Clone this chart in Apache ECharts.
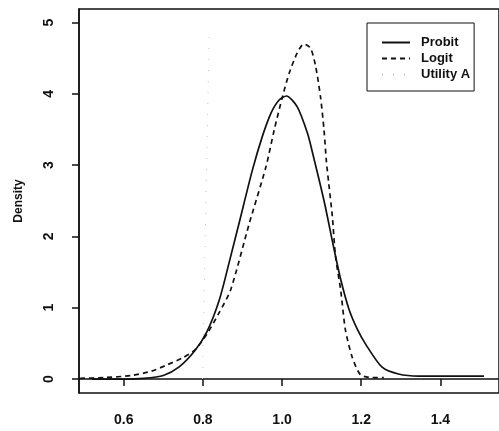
<!DOCTYPE html>
<html><head><meta charset="utf-8">
<script src="https://cdn.jsdelivr.net/npm/echarts@6/dist/echarts.min.js"></script>
<style>html,body{margin:0;padding:0;background:#fff}#c{width:499px;height:431px}</style>
</head><body><div id="c"></div>
<script>
const probitX = [0.52,0.60,0.65,0.70,0.74,0.78,0.81,0.842,0.867,0.892,0.925,0.950,0.972,0.992,1.011,1.038,1.064,1.078,1.106,1.131,1.148,1.169,1.19,1.211,1.252,1.294,1.345,1.40,1.51];
const probitY = [0.00,0.00,0.01,0.05,0.17,0.40,0.66,1.12,1.65,2.20,2.93,3.40,3.73,3.91,3.97,3.82,3.45,3.15,2.50,1.83,1.40,0.98,0.70,0.49,0.17,0.07,0.04,0.04,0.04];
const logitX = [0.49,0.55,0.62,0.67,0.71,0.75,0.78,0.81,0.84,0.87,0.917,0.959,0.980,1.001,1.018,1.038,1.055,1.072,1.085,1.097,1.106,1.112,1.118,1.127,1.135,1.148,1.160,1.177,1.198,1.227,1.257];
const logitY = [0.01,0.02,0.05,0.11,0.20,0.30,0.41,0.63,0.92,1.25,2.18,2.97,3.49,3.96,4.29,4.57,4.70,4.64,4.38,3.96,3.49,3.05,2.74,2.28,1.72,1.25,0.69,0.31,0.06,0.02,0.02];
const utilX = [0.799,0.816];
const utilY = [0,4.87];
const xTicks = [0.6,0.8,1.0,1.2,1.4];
const yTicks = [0,1,2,3,4,5];
const seriesNames = ['Probit','Logit','Utility A'];
const yName = 'Density';

const zip = (a,b)=>a.map((v,i)=>[v,b[i]]);
const font = 'Liberation Sans, Arial, sans-serif';
const ink = '#111';
const chart = echarts.init(document.getElementById('c'), null, {renderer:'canvas'});
chart.setOption({
  backgroundColor:'#fff',
  animation:false,
  grid:{left:79,top:9,right:-2,bottom:38,show:true,borderColor:ink,borderWidth:1.5,backgroundColor:'transparent'},
  xAxis:{type:'value',min:0.487,max:1.548,
    axisLine:{show:true,lineStyle:{color:ink,width:1.5}},
    axisTick:{show:true,customValues:xTicks,length:7,lineStyle:{color:ink,width:1.5}},
    axisLabel:{customValues:xTicks,margin:20,color:ink,fontFamily:font,fontSize:14,fontWeight:'bold',
      formatter:v=>v.toFixed(1)},
    splitLine:{show:false}},
  yAxis:{type:'value',min:-0.196,max:5.19,
    name:yName,nameLocation:'middle',nameRotate:90,nameGap:54,
    nameTextStyle:{color:ink,fontFamily:font,fontSize:12,fontWeight:'bold'},
    axisLine:{show:true,lineStyle:{color:ink,width:1.5}},
    axisTick:{show:true,customValues:yTicks,length:7,lineStyle:{color:ink,width:1.5}},
    axisLabel:{customValues:yTicks,rotate:90,margin:23,color:ink,fontFamily:font,fontSize:14,fontWeight:'bold'},
    splitLine:{show:false}},
  legend:{data:seriesNames,orient:'vertical',left:367,top:23,width:107,
    backgroundColor:'#fff',borderColor:ink,borderWidth:1,
    padding:[13,4,10,14],itemWidth:28,itemHeight:14,itemGap:3,
    itemStyle:{opacity:0},
    textStyle:{color:ink,fontFamily:font,fontSize:13,fontWeight:'bold',padding:[0,0,0,6]}},
  series:[
    {name:seriesNames[0],type:'line',data:zip(probitX,probitY),symbol:'none',smooth:0.25,
      lineStyle:{color:ink,width:1.7,type:'solid'},itemStyle:{color:ink}},
    {name:seriesNames[1],type:'line',data:zip(logitX,logitY),symbol:'none',smooth:0.25,
      lineStyle:{color:ink,width:1.7,type:[5,4]},itemStyle:{color:ink}},
    {name:seriesNames[2],type:'line',data:zip(utilX,utilY),symbol:'none',
      lineStyle:{color:'#c4c4c4',width:1,type:[1,10]},itemStyle:{color:'#c4c4c4'}}
  ]
});
</script></body></html>
